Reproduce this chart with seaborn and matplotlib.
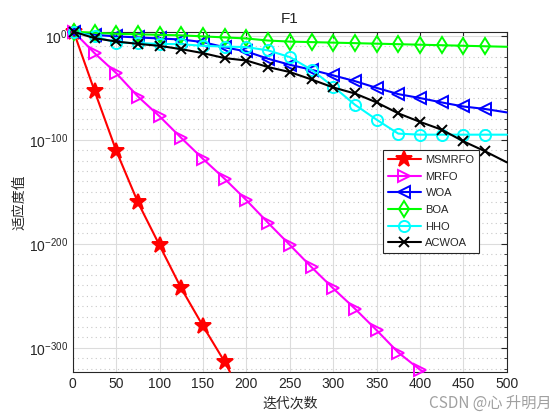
"""
plot.py - F1 收敛曲线 (MSMRFO / MRFO / WOA / BOA / HHO / ACWOA)
"""
import numpy as np
import matplotlib
matplotlib.use("Agg")
import matplotlib.pyplot as plt
from matplotlib.ticker import FixedLocator, LogFormatterSciNotation, NullFormatter
import seaborn as sns

sns.set_style("white")
plt.rcParams['font.family'] = ['Liberation Sans', 'Noto Sans CJK SC']
plt.rcParams['mathtext.fontset'] = 'custom'
plt.rcParams['mathtext.rm'] = 'Liberation Sans'
plt.rcParams['axes.unicode_minus'] = False

# 迭代次数 (每 25 次一个标记)
ITERS = [1, 25, 50, 75, 100, 125, 150, 175, 200, 225, 250, 275, 300,
         325, 350, 375, 400, 425, 450, 475, 500]

# 适应度值的数量级 log10(fitness)
MSMRFO_X = [1, 25, 50, 75, 100, 125, 150, 175, 181]
MSMRFO_LOG = [4, -52.8, -110.4, -160, -201.5, -242.8, -279, -313.5, -323]

MRFO_X = [1, 25, 50, 75, 100, 125, 150, 175, 200, 225, 250, 275, 300,
          325, 350, 375, 400, 404]
MRFO_LOG = [4, -16.6, -35.8, -58.3, -77.4, -98.2, -118.3, -137.5, -158,
            -179.8, -201, -222.4, -242.8, -262.3, -283, -304.5, -321, -323]

WOA_LOG = [4, 1, -0.5, -1.5, -2.5, -3.5, -6, -11, -15, -22, -27.8, -32.6,
           -38, -43.5, -50, -56, -59.8, -64, -67.9, -70.3, -73.6]
BOA_LOG = [4, 3, 2, 1.5, 1, 0.5, -0.5, -1.5, -2.5, -4.5, -5.5, -6, -6.5,
           -7, -7.5, -8, -8.5, -9, -9.5, -10, -10.5]
HHO_LOG = [4, -0.6, -6.4, -7, -7.7, -8, -9.6, -10.3, -10.8, -14, -20.4,
           -32.6, -48.7, -66.2, -80.6, -94, -95, -95, -95, -95, -95]
ACWOA_LOG = [4, -2.2, -5.4, -7.7, -9.6, -12.8, -16.6, -21.4, -23.7, -30,
             -34.8, -41.9, -49.6, -55.4, -64, -74.5, -82.7, -90.2, -101.4,
             -111, -121.6]

SERIES = [
    ("MSMRFO", MSMRFO_X, MSMRFO_LOG, "#ff0000", "*", 12),
    ("MRFO", MRFO_X, MRFO_LOG, "#ff00ff", ">", 8),
    ("WOA", ITERS, WOA_LOG, "#0000ff", "<", 8),
    ("BOA", ITERS, BOA_LOG, "#00ff00", "d", 8),
    ("HHO", ITERS, HHO_LOG, "#00ffff", "o", 8),
    ("ACWOA", ITERS, ACWOA_LOG, "#000000", "x", 7),
]


def plot_f1():
    fig = plt.figure(figsize=(5.6, 4.2), dpi=100)
    ax = fig.add_axes([0.13, 0.114, 0.775, 0.811])

    for name, xs, logs, color, mk, ms in SERIES:
        ys = 10.0 ** np.array(logs, dtype=float)
        filled = mk == "*"
        sns.lineplot(x=xs, y=ys, ax=ax, color=color, label=name,
                     estimator=None, sort=False, linewidth=1.5,
                     marker=mk, markersize=ms,
                     markevery=slice(0, -1),
                     markerfacecolor=color if filled else "none",
                     markeredgecolor=color, markeredgewidth=1.4,
                     clip_on=False, zorder=3)

    ax.set_yscale("log")
    ax.set_xlim(0, 500)
    ax.set_ylim(5e-324, 10.0 ** 4.2)
    ax.set_xticks(range(0, 501, 50))
    ax.yaxis.set_major_locator(FixedLocator([1e0, 1e-100, 1e-200, 1e-300]))
    ax.yaxis.set_minor_locator(FixedLocator([10.0 ** -k for k in range(0, 324, 10)]))
    ax.yaxis.set_major_formatter(LogFormatterSciNotation())
    ax.yaxis.set_minor_formatter(NullFormatter())

    ax.grid(True, which="major", color="#dcdcdc", linewidth=0.8, linestyle="-")
    ax.grid(True, which="minor", axis="y", color="#c8c8c8", linewidth=0.8,
            linestyle=(0, (1, 3)))
    ax.set_axisbelow(True)

    ax.tick_params(which="both", direction="in", top=True, right=True,
                   labelsize=10, colors="#262626")
    ax.tick_params(which="major", length=4)
    ax.tick_params(which="minor", length=2.5)
    for sp in ax.spines.values():
        sp.set_color("#262626")
        sp.set_linewidth(0.8)

    ax.set_title("F1", fontsize=11, pad=6, color="#262626")
    ax.set_xlabel("迭代次数", fontsize=10, labelpad=4)
    ax.set_ylabel("适应度值", fontsize=10, labelpad=2)

    leg = ax.legend(loc="upper left", bbox_to_anchor=(0.714, 0.652),
                    fontsize=8, handlelength=3.0, borderaxespad=0,
                    fancybox=False, framealpha=1, edgecolor="#262626",
                    borderpad=0.45, labelspacing=0.6, handletextpad=0.4)
    leg.get_frame().set_linewidth(0.8)

    fig.text(0.985, 0.02, "CSDN @心 升明月", ha="right", va="bottom",
             fontsize=11, color="#a0a0a0",
             family=['Noto Sans CJK SC', 'Liberation Sans'])

    fig.savefig("out.png", dpi=100)
    plt.close(fig)


if __name__ == "__main__":
    plot_f1()
